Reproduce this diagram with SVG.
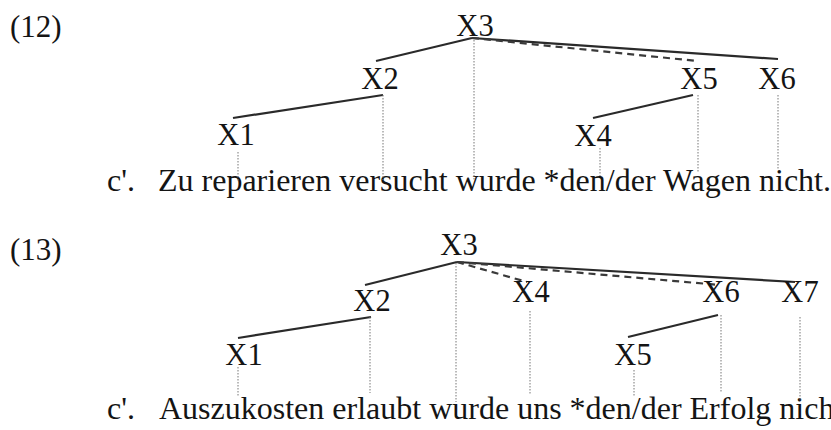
<svg xmlns="http://www.w3.org/2000/svg" width="831" height="430" viewBox="0 0 831 430">
<style>
text{font-family:"Liberation Serif","Times New Roman",serif;fill:#141414;font-size:31px}
.w{font-size:32px}
.n{text-anchor:middle;font-size:30.5px}
.s{fill:none;stroke:#2a2a2a;stroke-width:2.2}
.d{fill:none;stroke:#3a3a3a;stroke-width:2.2;stroke-dasharray:7 5}
.v{fill:none;stroke:#777;stroke-width:1;stroke-dasharray:1.5 1.5}
</style>
<rect width="831" height="430" fill="#fff"/>
<text x="10" y="37">(12)</text>
<text class="w" x="107" y="191">c'.</text>
<text class="w" x="158" y="191">Zu reparieren versucht wurde *den/der Wagen nicht.</text>
<text x="10" y="260">(13)</text>
<text class="w" x="107" y="419">c'.</text>
<text class="w" x="159" y="419">Auszukosten erlaubt wurde uns *den/der Erfolg nicht.</text>
<g id="connectors">
<line class="s" x1="472" y1="38" x2="376" y2="61"/>
<line class="s" x1="472" y1="38" x2="778" y2="59"/>
<line class="d" x1="472" y1="38" x2="697" y2="61"/>
<line class="v" x1="474" y1="40" x2="474" y2="180"/>
<line class="s" x1="383" y1="95" x2="233" y2="118"/>
<line class="v" x1="383" y1="95" x2="383" y2="180"/>
<line class="v" x1="238" y1="152" x2="238" y2="182"/>
<line class="s" x1="693" y1="95" x2="593" y2="118"/>
<line class="v" x1="698" y1="95" x2="698" y2="172"/>
<line class="v" x1="778" y1="95" x2="778" y2="170"/>
<line class="v" x1="600" y1="148" x2="600" y2="176"/>
<line class="s" x1="457" y1="262" x2="365" y2="285"/>
<line class="s" x1="457" y1="262" x2="795" y2="282"/>
<line class="d" x1="457" y1="262" x2="527" y2="282"/>
<line class="d" x1="457" y1="262" x2="720" y2="285"/>
<line class="v" x1="456" y1="263" x2="456" y2="402"/>
<line class="s" x1="371" y1="317" x2="238" y2="338"/>
<line class="v" x1="370" y1="317" x2="370" y2="393"/>
<line class="v" x1="238" y1="367" x2="238" y2="396"/>
<line class="v" x1="530" y1="311" x2="530" y2="395"/>
<line class="s" x1="718" y1="315" x2="628" y2="337"/>
<line class="v" x1="721" y1="315" x2="721" y2="393"/>
<line class="v" x1="800" y1="317" x2="800" y2="400"/>
<line class="v" x1="634" y1="370" x2="634" y2="396"/>
</g>
<g id="t12-X3"><text class="n" x="475" y="36">X3</text></g>
<g id="t12-X2"><text class="n" x="380" y="89">X2</text></g>
<g id="t12-X1"><text class="n" x="236" y="145">X1</text></g>
<g id="t12-X5"><text class="n" x="699" y="89">X5</text></g>
<g id="t12-X6"><text class="n" x="777" y="89">X6</text></g>
<g id="t12-X4"><text class="n" x="593" y="146">X4</text></g>
<g id="t13-X3"><text class="n" x="459" y="255">X3</text></g>
<g id="t13-X2"><text class="n" x="372" y="311">X2</text></g>
<g id="t13-X1"><text class="n" x="244" y="365">X1</text></g>
<g id="t13-X4"><text class="n" x="531" y="302">X4</text></g>
<g id="t13-X6"><text class="n" x="721" y="302">X6</text></g>
<g id="t13-X7"><text class="n" x="800" y="302">X7</text></g>
<g id="t13-X5"><text class="n" x="633" y="365">X5</text></g>
</svg>
